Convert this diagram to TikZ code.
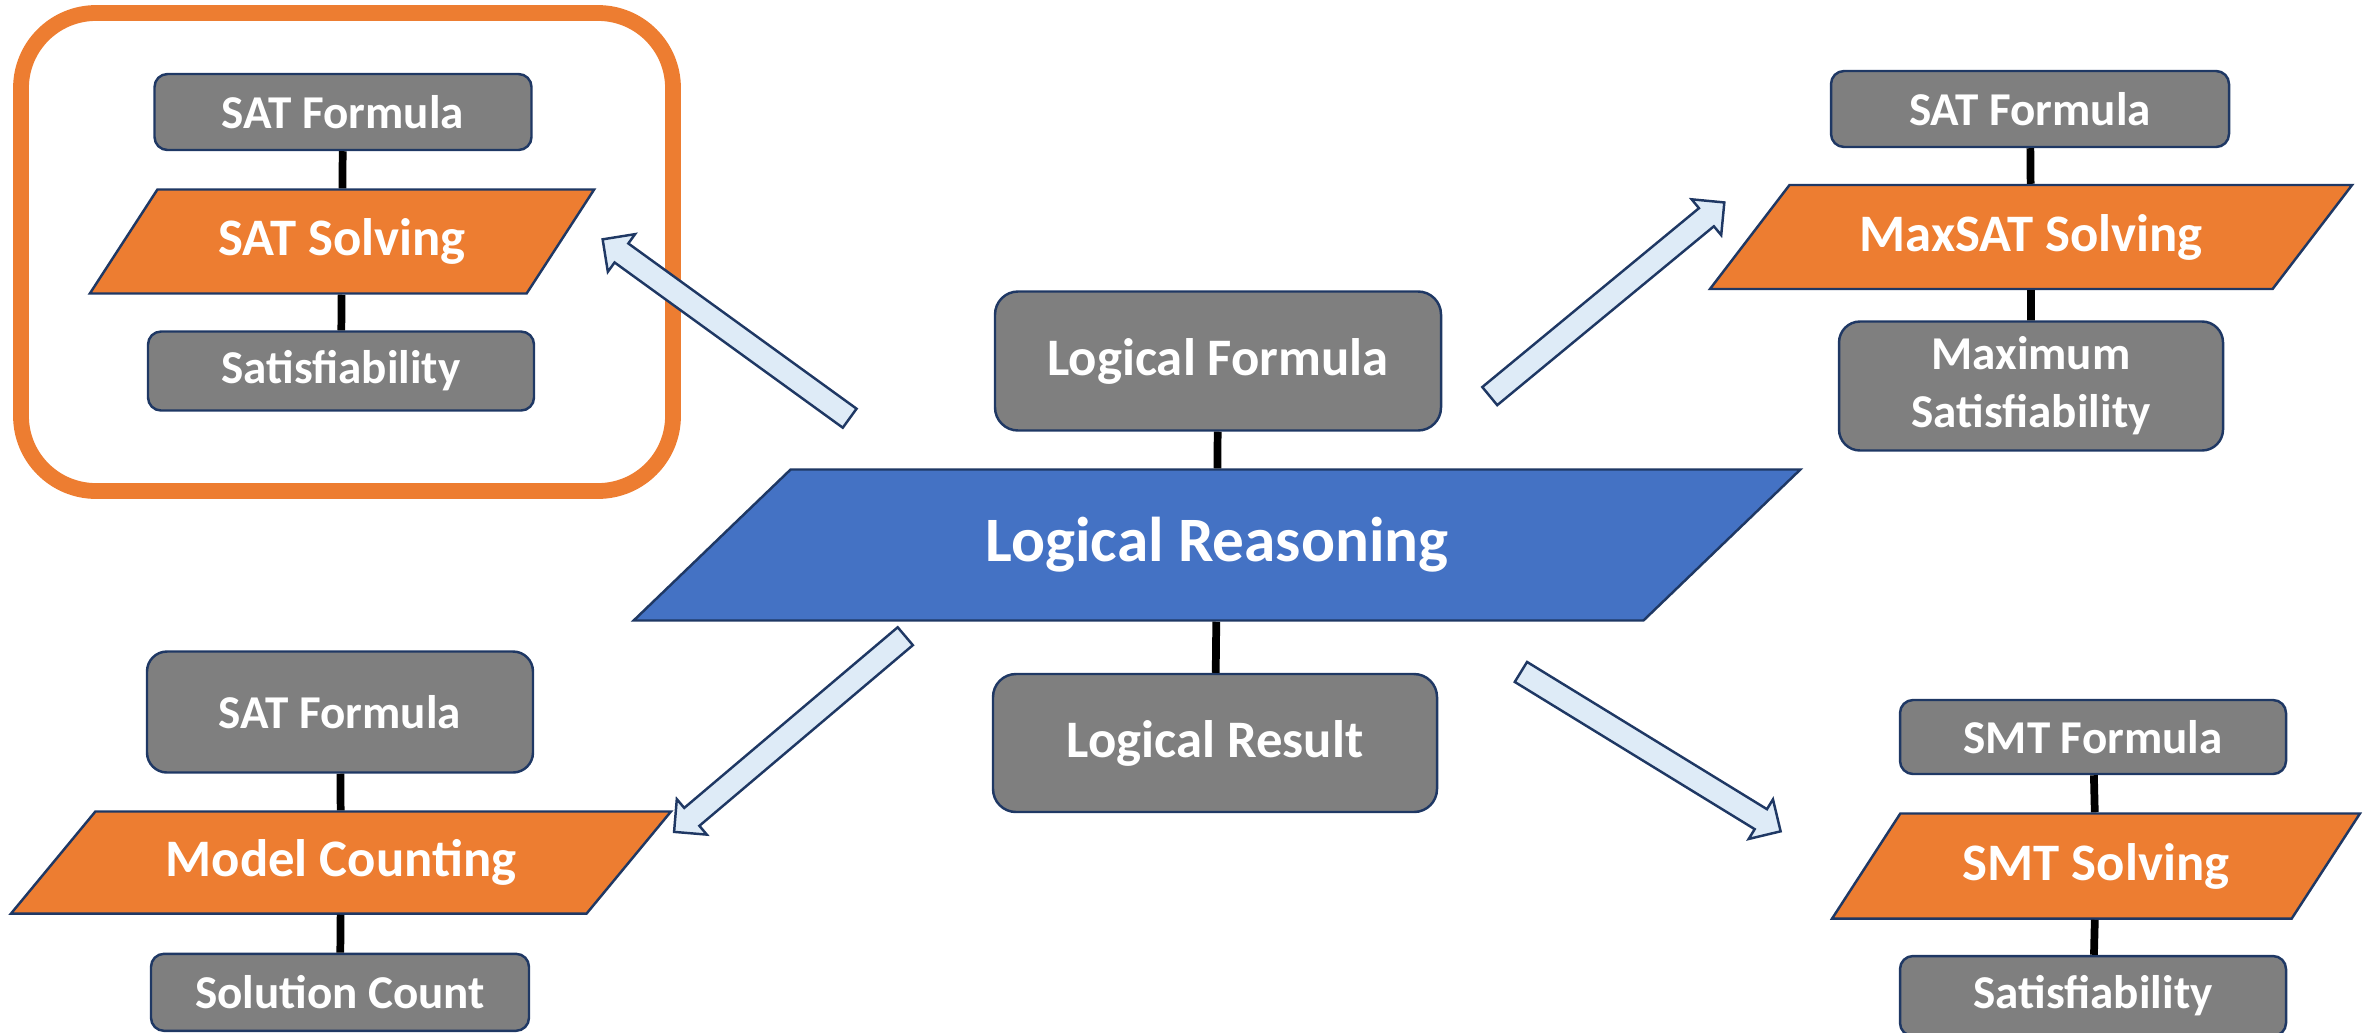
\documentclass[tikz,border=0pt]{standalone}
\usepackage{fontspec}
\setmainfont{Carlito}
\usepackage{tikz}
\usetikzlibrary{shapes.geometric, shapes.arrows, calc}

\definecolor{boxgray}{HTML}{7F7F7F}
\definecolor{solveorange}{HTML}{ED7D31}
\definecolor{reasonblue}{HTML}{4472C4}
\definecolor{edgenavy}{HTML}{1F3864}
\definecolor{arrowfill}{HTML}{DEEBF7}

% block arrow from #2 to #3, named #1
\newcommand{\fatarrow}[3]{%
	\path let \p1=($(#3)-(#2)$) in
		node[bigarrow, minimum height={veclen(\x1,\y1)}, rotate={atan2(\y1,\x1)}] (#1) at ($(#2)!0.5!(#3)$) {};}

\begin{document}
\begin{tikzpicture}[
		box/.style={rectangle, rounded corners=1.3mm, draw=edgenavy, line width=0.7pt, fill=boxgray, text=white, inner sep=0pt, align=center, font=\bfseries\fontsize{13.4}{16.5}\selectfont},
		para/.style 2 args={trapezium, trapezium stretches=true, trapezium left angle=#1, trapezium right angle=#2, draw=edgenavy, line width=0.7pt, fill=solveorange, text=white, inner sep=0pt, font=\bfseries\fontsize{15}{18}\selectfont},
		link/.style={line width=2.2pt, black},
		bigarrow/.style={single arrow, draw=edgenavy, line width=0.7pt, fill=arrowfill, inner xsep=0pt, inner ysep=0.105cm, minimum width=0pt, single arrow head extend=0.115cm, single arrow tip angle=90, single arrow head indent=0pt},
	]
	\useasboundingbox (0,0) rectangle (23.74,10.32);
	%frame round the SAT part
	\draw[solveorange, line width=4.5pt, rounded corners=0.75cm] (0.21,5.41) rectangle (6.73,10.19);

	%centre
	\node[box, rounded corners=2.3mm, minimum width=4.46cm, minimum height=1.39cm, font=\bfseries\fontsize{15}{18}\selectfont] (formula) at (12.18,6.71) {Logical Formula};
	\node[para={32.9}{147.1}, fill=reasonblue, minimum width=11.69cm, minimum height=1.51cm, font=\bfseries\fontsize{18}{22}\selectfont] (reasoning) at (12.17,4.87) {Logical Reasoning};
	\node[box, rounded corners=2.3mm, minimum width=4.44cm, minimum height=1.38cm, font=\bfseries\fontsize{15}{18}\selectfont] (result) at (12.15,2.89) {Logical Result};

	%SAT
	\node[box, minimum width=3.77cm, minimum height=0.76cm] (satformula) at (3.43,9.20) {SAT Formula};
	\node[para={45.4}{134.6}, minimum width=5.09cm, minimum height=1.04cm] (satsolving) at (3.42,7.905) {SAT Solving};
	\node[box, minimum width=3.86cm, minimum height=0.79cm] (satresult) at (3.41,6.61) {Satisfiability};

	%MaxSAT
	\node[box, minimum width=3.98cm, minimum height=0.76cm] (maxformula) at (20.30,9.23) {SAT Formula};
	\node[para={39.1}{140.9}, minimum width=6.43cm, minimum height=1.04cm] (maxsolving) at (20.31,7.95) {MaxSAT Solving};
	\node[box, rounded corners=2.1mm, minimum width=3.84cm, minimum height=1.29cm] (maxresult) at (20.31,6.46) {Maximum\\Satisfiability};

	%model counting
	\node[box, rounded corners=2mm, minimum width=3.86cm, minimum height=1.21cm] (countformula) at (3.40,3.20) {SAT Formula};
	\node[para={37.4}{142.6}, minimum width=6.60cm, minimum height=1.02cm] (counting) at (3.41,1.695) {Model Counting};
	\node[box, minimum width=3.78cm, minimum height=0.77cm] (countresult) at (3.40,0.397) {Solution Count};

	%SMT
	\node[box, minimum width=3.86cm, minimum height=0.74cm] (smtformula) at (20.93,2.95) {SMT Formula};
	\node[para={44.7}{135.3}, minimum width=5.28cm, minimum height=1.05cm] (smtsolving) at (20.96,1.66) {SMT Solving};
	\node[box, minimum width=3.86cm, minimum height=0.80cm] (smtresult) at (20.93,0.36) {Satisfiability};

	\draw[link] (formula) -- (reasoning);
	\draw[link] (reasoning) -- (result);
	\draw[link] (satformula) -- (satsolving);
	\draw[link] (satsolving) -- (satresult);
	\draw[link] (maxformula) -- (maxsolving);
	\draw[link] (maxsolving) -- (maxresult);
	\draw[link] (countformula) -- (counting);
	\draw[link] (counting) -- (countresult);
	\draw[link] (smtformula) -- (smtsolving);
	\draw[link] (smtsolving) -- (smtresult);

	%arrows out of the centre
	\coordinate (tailsat) at (8.545,6.103);
	\coordinate (tipsat) at (6.073,7.893);
	\coordinate (tailmax) at (14.85,6.32);
	\coordinate (tipmax) at (17.20,8.26);
	\coordinate (tailcount) at (9.10,3.998);
	\coordinate (tipcount) at (6.783,2.037);
	\coordinate (tailsmt) at (15.158,3.632);
	\coordinate (tipsmt) at (17.757,2.037);
	\fatarrow{tosat}{tailsat}{tipsat}
	\fatarrow{tomax}{tailmax}{tipmax}
	\fatarrow{tocount}{tailcount}{tipcount}
	\fatarrow{tosmt}{tailsmt}{tipsmt}
\end{tikzpicture}
\end{document}
